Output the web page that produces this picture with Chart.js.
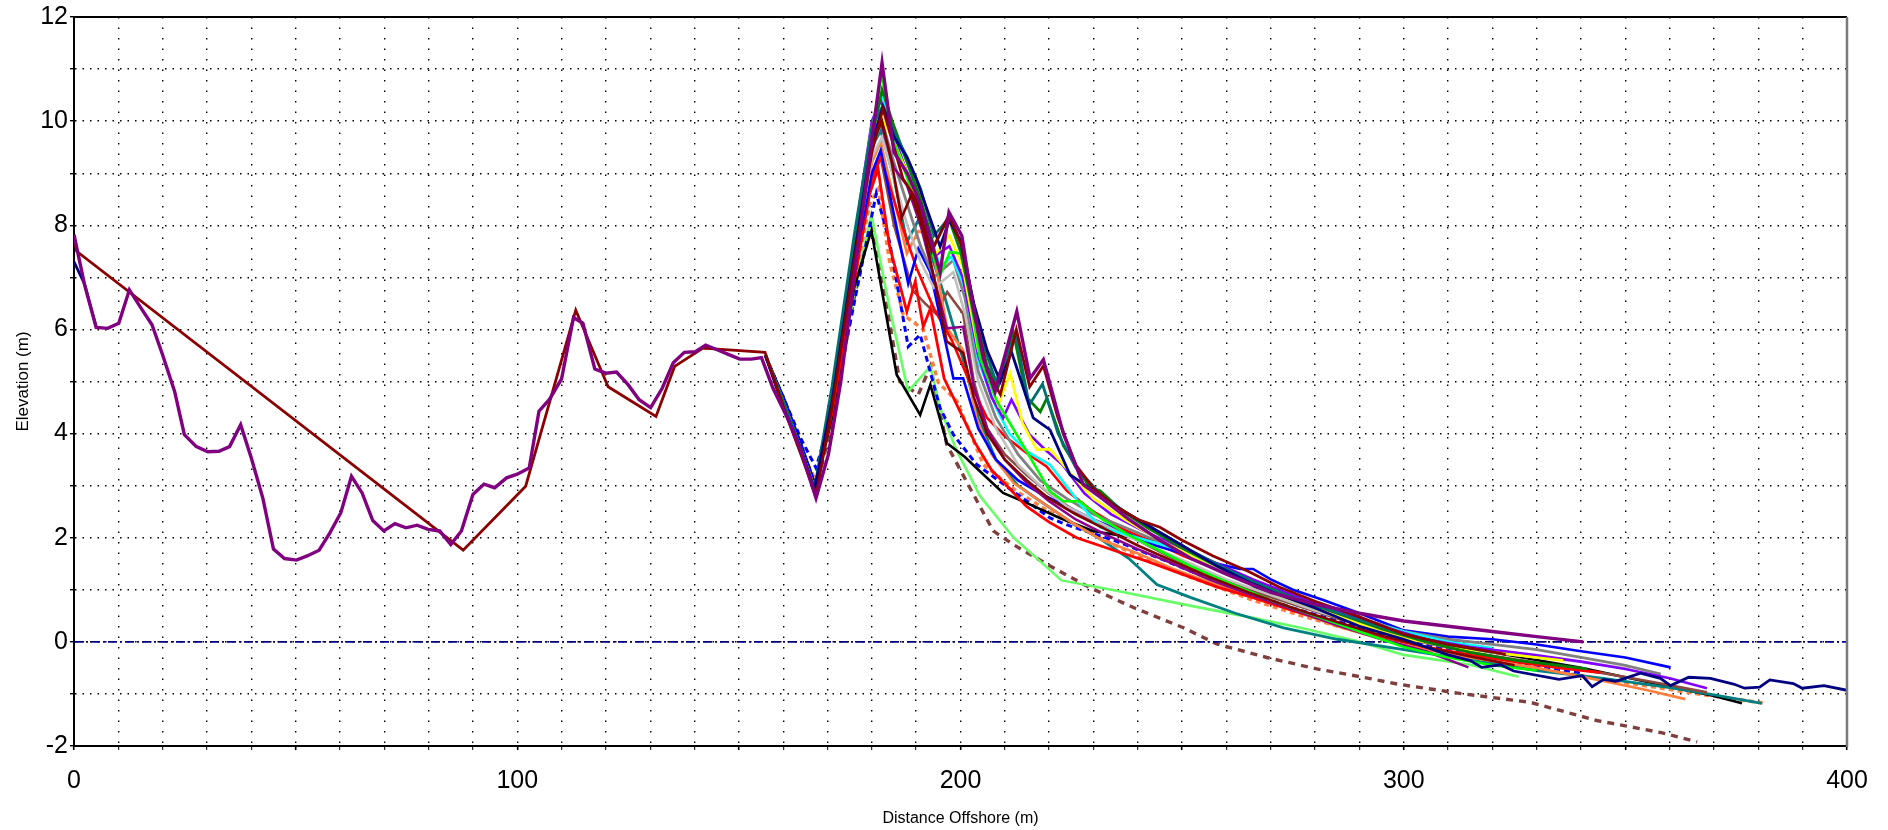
<!DOCTYPE html>
<html>
<head>
<meta charset="utf-8">
<title>Beach profiles</title>
<script src="https://cdn.jsdelivr.net/npm/chart.js@4.4.1/dist/chart.umd.min.js"></script>
<style>
  html, body { margin: 0; padding: 0; background: #fff; }
  #wrap { width: 1888px; height: 830px; }
</style>
</head>
<body>
<div id="wrap"><canvas id="profiles" width="1888" height="830"></canvas></div>
<script>
/* Profile surveys: [distance offshore (m), elevation (m)] */

const purpleProfile = [[0,7.82],[2.4,6.85],[5,6.04],[7.6,6.02],[10.1,6.12],[12.5,6.76],[15.2,6.4],[17.6,6.09],[20,5.51],[22.7,4.81],[24.9,3.98],[27.6,3.75],[30.2,3.65],[32.7,3.66],[35.1,3.75],[37.6,4.17],[40,3.53],[42.6,2.76],[45,1.78],[47.5,1.6],[50.2,1.57],[52.6,1.65],[55.3,1.76],[57.7,2.09],[60.2,2.48],[62.6,3.18],[65,2.86],[67.4,2.33],[69.9,2.13],[72.4,2.27],[74.9,2.19],[77.4,2.24],[79.9,2.16],[82.5,2.13],[85,1.87],[87.4,2.13],[90,2.83],[92.5,3.03],[94.9,2.96],[97.6,3.15],[100,3.22],[102.7,3.34],[104.9,4.43],[107.3,4.66],[110,5.05],[112.7,6.23],[114.8,6.12],[117.5,5.24],[120,5.16],[122.4,5.18],[125,4.94],[127.5,4.65],[130.1,4.5],[132.7,4.87],[135.2,5.36],[137.7,5.56],[140.1,5.57],[142.5,5.7],[145.1,5.61],[147.6,5.52],[150.2,5.43],[152.8,5.43],[155.1,5.46],[157.7,4.87],[160.8,4.33],[163.8,3.72],[167.4,2.76],[170.2,3.6],[173,5.0],[176,7.0],[179,9.0],[182.3,11.12],[185,9.4],[188,9.0],[191,8.4],[195.4,7.1],[197.4,8.25],[200.3,7.8],[202.5,6.6],[205.1,5.45],[207.8,4.8],[212.7,6.34],[215.7,5.06],[218.7,5.42],[223.2,4.0],[227.7,3.02],[232,2.75],[238,2.35],[245,1.95],[252,1.6],[260,1.3],[270,0.95],[280,0.72],[290,0.55],[300,0.4],[310,0.3],[320,0.2],[330,0.1],[340.5,0.0]];

const darkRedProfile = [[0,7.78],[0.6,7.5],[87.8,1.76],[101.9,2.99],[113.2,6.37],[120.5,4.9],[131.3,4.33],[135.5,5.29],[141.9,5.64],[155.9,5.56],[160.5,4.4],[164,3.6],[167.4,2.8],[171,4.5],[176,7.3],[180,9.4],[182.5,10.24],[185,9.5],[187,8.9],[190,8.5],[193.5,7.5],[197.4,8.2],[200.3,7.6],[203,6.4],[206,5.2],[209,4.75],[212.6,6.0],[215.6,4.9],[218.7,5.3],[222,4.3],[226,3.4],[230,2.95],[235,2.6],[240,2.35],[245,2.2],[250,1.95],[257,1.65],[265,1.35],[272,1.05],[280,0.78],[290,0.48],[300,0.15],[310,-0.05],[317,-0.15],[323,-0.24]];

const navyShore = [[0,7.3],[2.4,6.87],[5,6.05]];
const navyProfile = [[156,5.5],[160,4.5],[164,3.7],[167,2.9],[171,4.6],[176,7.4],[180,9.6],[182.5,10.27],[185,9.7],[187.9,9.31],[190,8.9],[192.4,8.32],[195.4,7.59],[197.5,8.1],[200,7.7],[203,6.5],[206,5.6],[209,5.0],[211.5,5.57],[216.4,4.3],[220.2,4.07],[224.7,3.21],[230,2.9],[236,2.55],[242,2.25],[250,1.85],[258,1.45],[265,1.15],[272,0.9],[280,0.65],[290,0.3],[300,0.05],[310,-0.25],[315,-0.36],[317.6,-0.49],[321.8,-0.44],[324.8,-0.56],[335,-0.72],[340.3,-0.65],[342.5,-0.86],[345.1,-0.72],[347.8,-0.76],[353.4,-0.6],[357.9,-0.7],[360.2,-0.84],[364.3,-0.68],[369.2,-0.7],[374.4,-0.81],[376.9,-0.89],[380.3,-0.87],[382.6,-0.73],[387.9,-0.8],[389.9,-0.89],[394.8,-0.84],[400,-0.93]];

const limeProfile = [[156,5.5],[160.5,4.5],[164,3.7],[167.2,2.9],[171,4.7],[176,7.6],[180,9.8],[182.2,10.9],[185,9.6],[188,8.9],[191,8.1],[193.5,7.5],[195.4,7.04],[197.6,7.49],[200.6,7.45],[204.4,5.45],[208.2,4.62],[214.9,3.66],[220.2,2.89],[223.2,2.7],[226.9,2.7],[232,2.35],[238,2.05],[245,1.75],[252,1.45],[260,1.15],[270,0.8],[280,0.5],[290,0.2],[300,-0.1],[310,-0.3],[320,-0.45],[330,-0.55]];

const greenProfile = [[156,5.5],[160.5,4.5],[164,3.7],[167.3,2.85],[171,4.6],[176,7.5],[180,9.7],[182.3,10.6],[185,9.9],[188,9.2],[191,8.5],[194,7.6],[197.3,8.15],[200,7.5],[203,6.3],[206,5.3],[208.5,4.9],[211.9,5.96],[214.9,4.7],[218,4.42],[219.5,4.68],[223.2,3.77],[229.2,2.96],[231.5,2.9],[236.7,2.5],[242,2.2],[250,1.8],[258,1.45],[266,1.15],[275,0.85],[285,0.55],[295,0.25],[305,0.0],[315,-0.2],[325,-0.35],[335,-0.45],[341.3,-0.52]];

const tealProfile = [[156,5.5],[160.5,4.5],[164,3.7],[167.3,2.9],[171,4.8],[176,7.6],[180,9.5],[182,9.82],[185,8.9],[187.9,7.68],[190.5,8.1],[192,7.8],[196.1,6.72],[200.6,5.42],[204,4.3],[208,3.5],[213,3.0],[218,2.7],[225,2.3],[232,1.95],[238,1.6],[244.3,1.1],[252,0.85],[262,0.55],[272.9,0.27],[285,0.05],[300,-0.15],[315,-0.35],[330,-0.55],[345,-0.7],[360,-0.88],[370,-1.02],[380.8,-1.18]];

const darkTealProfile = [[156,5.5],[160.5,4.5],[164,3.7],[167,2.9],[171,4.9],[176,7.8],[180,9.9],[182.5,10.3],[185,9.8],[188,9.3],[191,8.7],[194,7.8],[197.5,8.15],[200.5,7.6],[204,6.0],[208,5.0],[212.5,5.9],[215.5,4.55],[218.5,4.95],[222,4.0],[226,3.35],[232,2.8],[238,2.45],[245,2.1],[252,1.75],[260,1.4],[270,1.0],[280,0.7],[290,0.42],[300,0.15],[310,-0.05],[320,-0.2]];

const blueProfile = [[156,5.5],[160.5,4.6],[164,3.8],[167.3,3.0],[171,4.6],[176,7.2],[180,9.0],[182,9.44],[185,8.2],[188.2,6.88],[190.5,7.55],[193.2,7.1],[196,6.0],[198.4,5.06],[200.6,5.06],[204,4.1],[208,3.5],[213,3.1],[218,2.85],[224,2.6],[230,2.35],[237,2.1],[244,1.85],[252,1.65],[258,1.5],[263,1.4],[266,1.4],[270,1.2],[275,1.0],[282,0.8],[290,0.55],[300,0.22],[310,0.1],[320,0.05],[330,-0.05],[340,-0.18],[350,-0.3],[360.2,-0.49]];

const redProfile = [[156,5.5],[160.5,4.5],[164,3.7],[167.2,2.9],[171,4.4],[176,6.9],[179.5,8.6],[181.4,9.09],[184,7.6],[187.9,6.34],[189.8,6.92],[191.6,6.05],[193.2,6.4],[196.3,5.06],[200.6,4.3],[203.3,3.82],[207,3.3],[211,2.95],[214.9,2.6],[220,2.3],[226.2,2.0],[235.2,1.74],[242,1.55],[250,1.3],[258,1.05],[266,0.85],[275,0.6],[285,0.35],[295,0.1],[305,-0.1],[315,-0.25],[325,-0.38],[335,-0.5],[344.4,-0.59]];

const redUpperProfile = [[156,5.5],[160.5,4.5],[164,3.7],[167.3,2.9],[171,4.6],[176,7.2],[180,8.9],[182,9.3],[186,8.2],[190,7.2],[194,6.4],[198,5.8],[202,5.0],[206,4.3],[210,3.95],[214.9,3.63],[219.4,3.37],[224,2.9],[230,2.5],[237,2.15],[244,1.9],[250.3,1.65],[258,1.4],[266,1.12],[275,0.85],[285,0.55],[295,0.28],[305,0.05],[315,-0.12],[325,-0.25]];

const blackProfile = [[156,5.5],[160.5,4.6],[164,3.8],[167.3,3.0],[171,4.3],[176,6.8],[179.9,7.9],[185.6,5.13],[190.9,4.36],[193.2,4.94],[196.9,3.82],[201,3.55],[203.6,3.34],[209.6,2.86],[214.9,2.67],[222.4,2.38],[229.9,2.13],[239,2.0],[246.5,1.93],[253,1.7],[260,1.4],[269.1,0.91],[280.4,0.59],[290,0.35],[300,0.12],[310,-0.05],[320,-0.2],[330,-0.35],[340,-0.5],[350,-0.68],[360,-0.86],[370,-1.04],[376.3,-1.18]];

const grayProfile = [[156,5.5],[160.5,4.5],[164,3.7],[167.3,2.9],[171,4.7],[176,7.5],[180,9.5],[182.3,10.0],[185,9.2],[188,8.4],[191,7.6],[194,7.0],[198.4,7.33],[201,6.6],[204,5.2],[208,4.3],[213,3.6],[218,3.1],[224,2.75],[230,2.45],[237,2.2],[244,1.95],[252,1.65],[260,1.35],[270,1.0],[280,0.7],[290,0.45],[300,0.2],[310,0.05],[320,-0.05],[330,-0.15],[340,-0.3],[350,-0.45],[358,-0.62]];

const silverProfile = [[156,5.5],[160.5,4.5],[164,3.7],[167.3,2.9],[171,4.6],[176,7.3],[180,9.3],[182.3,9.7],[185,8.9],[188,8.0],[191,7.3],[194,6.8],[198.4,7.1],[201,6.3],[204,5.0],[208,4.1],[213,3.4],[218,3.0],[224,2.6],[230,2.35],[237,2.05],[244,1.8],[252,1.5],[260,1.2],[270,0.9],[280,0.6],[290,0.35],[300,0.1],[315,-0.15],[330,-0.3],[340,-0.38],[351,-0.52]];

const brownProfile = [[156,5.5],[160.5,4.5],[164,3.7],[167.3,2.9],[171,4.5],[176,7.0],[180,8.9],[182,9.3],[185,8.0],[189.2,6.75],[192,6.5],[194.5,6.3],[197,6.72],[200.6,6.3],[203,5.0],[206,4.1],[210,3.6],[215,3.2],[220,2.85],[226,2.5],[233,2.2],[240,1.95],[248,1.6],[256,1.3],[265,1.0],[275,0.72],[285,0.45],[295,0.2],[305,-0.02],[315,-0.2],[330,-0.4],[345,-0.6],[358,-0.8],[368.4,-0.97]];

const orangeProfile = [[156,5.5],[160.5,4.5],[164,3.7],[167.3,2.9],[171,4.6],[176,7.3],[180,9.2],[182,9.6],[185,8.5],[187.9,7.46],[190.5,7.89],[193.2,7.8],[197,6.02],[200.6,5.6],[203.6,4.3],[207,3.6],[212,3.05],[218,2.7],[225,2.3],[232,1.95],[240,1.7],[248,1.4],[256,1.15],[265,0.9],[275,0.6],[285,0.3],[295,0.05],[305,-0.15],[315,-0.3],[330,-0.5],[345,-0.75],[355,-0.93],[363.5,-1.1]];

const orangeDashProfile = [[156,5.5],[160.5,4.5],[164,3.7],[167.3,3.1],[171,4.3],[176,6.9],[179.5,8.4],[181.5,8.7],[184,7.3],[187.1,6.28],[191.6,6.0],[195,4.98],[199.2,4.62],[205.2,3.4],[212.7,2.89],[220,2.5],[228,2.15],[235,1.85],[242.8,1.55],[250,1.3],[258,1.05],[266,0.8],[275,0.55],[285,0.3],[295,0.08],[305,-0.12],[315,-0.3],[325,-0.45],[340,-0.65],[355,-0.85],[368,-1.02],[381.6,-1.18]];

const blueDashProfile = [[156,5.5],[160.5,4.6],[164,3.9],[167.4,3.34],[171,4.4],[176,6.5],[181,8.61],[184,7.68],[188.2,5.67],[190.9,5.9],[195.4,4.49],[198.4,3.98],[203.6,3.41],[212.7,2.84],[220.2,2.38],[223.9,2.25],[235.2,1.93],[245,1.6],[255,1.25],[265,0.95],[275,0.65],[285,0.4],[295,0.15],[305,-0.05],[315,-0.22],[328,-0.42],[340,-0.6]];

const brownDashProfile = [[156,5.5],[160.5,4.5],[164,3.7],[167.3,2.9],[171,4.2],[176,6.6],[179.9,8.13],[186.3,5.0],[190.5,4.75],[193.2,5.29],[196.9,3.79],[202.1,2.96],[207.4,2.13],[211.9,1.87],[219.5,1.49],[229.2,1.04],[239,0.66],[250.3,0.27],[257.8,-0.04],[269.1,-0.3],[280.4,-0.52],[290.9,-0.68],[298.5,-0.81],[313.5,-1.0],[328.5,-1.16],[343.5,-1.51],[357.9,-1.74],[366.2,-1.92]];

const lightGreenProfile = [[156,5.5],[160.5,4.5],[164,3.7],[167.3,3.0],[171,4.3],[176,6.7],[179.9,8.2],[184,6.4],[188.2,4.81],[193.2,5.29],[195.4,4.49],[199,3.7],[204.4,2.8],[212,2.0],[222.8,1.18],[235.2,0.98],[250.3,0.72],[265.4,0.47],[276.7,0.27],[290,0.0],[300,-0.25],[315,-0.44],[325.9,-0.67]];

const yellowProfile = [[156,5.5],[160.5,4.5],[164,3.7],[167.3,2.9],[171,4.8],[176,7.7],[180,9.9],[182,10.1],[185,9.6],[188,9.0],[191,8.2],[194,7.4],[197.5,7.8],[200.5,7.2],[204,5.6],[208.5,4.55],[211.2,5.16],[214,4.2],[217.2,3.69],[220.2,3.7],[224.7,3.25],[230,2.75],[237,2.35],[244,2.0],[252,1.65],[260,1.3],[270,0.95],[280,0.65],[290,0.35],[300,0.08],[310,-0.1],[320,-0.2],[328,-0.28],[336,-0.36]];

const violetProfile = [[156,5.5],[160.5,4.5],[164,3.7],[167.3,2.9],[171,4.8],[176,7.7],[180,10.0],[182,10.4],[185,9.7],[188,9.0],[191,8.3],[194,7.4],[197.5,7.6],[200.5,7.0],[204,5.5],[207,4.7],[209.6,4.3],[211.5,4.65],[215.5,3.99],[219,3.7],[223,3.4],[228,2.85],[234,2.45],[242,2.1],[250,1.8],[258,1.5],[266,1.2],[275,0.9],[285,0.6],[295,0.3],[305,0.05],[315,-0.1],[329.3,-0.25],[340,-0.38],[350,-0.52],[360,-0.7],[368.4,-0.89]];

const cyanProfile = [[156,5.5],[160.5,4.5],[164,3.7],[167.3,2.9],[171,4.8],[176,7.6],[180,9.8],[182.3,10.5],[185,9.8],[188,9.2],[191,8.4],[195.4,7.2],[198,7.4],[201,6.8],[204,5.4],[208,4.5],[211,4.0],[214.9,3.66],[220.2,3.4],[227.7,2.57],[231.5,2.2],[242.8,1.93],[250.3,1.74],[258,1.45],[266,1.15],[275,0.88],[285,0.6],[291.7,0.4],[300,0.2],[310,0.0],[320,-0.12]];

const purpleLowProfile = [[156,5.5],[160.5,4.5],[164,3.7],[167.3,2.9],[171,4.7],[176,7.4],[180,9.5],[182,9.98],[185,9.1],[187.9,8.77],[191,8.0],[194,7.0],[196.9,6.02],[200.6,6.05],[203,4.9],[206,4.1],[210,3.5],[215,3.05],[220,2.7],[226,2.35],[233,2.05],[240,1.78],[248,1.5],[256,1.2],[265,0.92],[275,0.62],[285,0.32],[295,0.05],[305,-0.18],[314.6,-0.49]];

const maroonProfile = [[156,5.5],[160.5,4.5],[164,3.7],[167.3,2.9],[171,4.6],[176,7.4],[180,9.6],[182.3,10.0],[184.5,9.2],[186.7,8.14],[189,8.6],[192,7.8],[194.5,6.8],[196.9,5.77],[200.6,5.55],[203,4.7],[206,4.0],[210,3.5],[215,3.1],[220,2.75],[226,2.45],[233,2.15],[240,1.85],[248,1.55],[256,1.25],[265,0.95],[275,0.65],[285,0.38],[295,0.12],[305,-0.1],[315,-0.28],[325,-0.45]];

const datumLine = [[0,0],[400,0]];

const xTickStep = 10;
const xLabelStep = 100;
const yTickStep = 1;
const yLabelStep = 2;

// first dataset is painted last (on top)
const line = (data, color, width, dash) => ({
    data: data.map(p => ({ x: p[0], y: p[1] })),
    borderColor: color,
    backgroundColor: color,
    borderWidth: width || 2.6,
    borderDash: dash || [],
    showLine: true,
    pointRadius: 0,
    pointHoverRadius: 0,
    fill: false,
    tension: 0
});

const datasets = [
    line(purpleProfile, '#800080', 3.4),
    line(darkRedProfile, '#8B0000', 2.8),
    line(navyShore, '#000080', 2.8),
    line(navyProfile, '#000080', 2.8),
    line(darkTealProfile, '#006F6F', 2.8),
    line(greenProfile, '#007F00', 2.8),
    line(maroonProfile, '#800000'),
    line(limeProfile, '#00FF00'),
    line(yellowProfile, '#FFFF00'),
    line(violetProfile, '#8000FF'),
    line(cyanProfile, '#00FFFF'),
    line(purpleLowProfile, '#8B008B'),
    line(grayProfile, '#808080', 2.8),
    line(silverProfile, '#C0C0C0'),
    line(blueProfile, '#0000FF'),
    line(redUpperProfile, '#FF0000'),
    line(redProfile, '#FF0000', 2.8),
    line(orangeProfile, '#FF7F3F'),
    line(brownProfile, '#8B4A40'),
    line(tealProfile, '#008080', 2.8),
    line(blackProfile, '#000000'),
    line(datumLine, '#000080', 1.8, [9, 3, 2, 3]),
    line(blueDashProfile, '#0000FF', 3, [6, 4]),
    line(orangeDashProfile, '#FF7F3F', 3.4, [5, 4]),
    line(lightGreenProfile, '#66FF66', 2.6),
    line(brownDashProfile, '#7F3F3F', 3.4, [7, 6])
];

const font = "'Liberation Sans', Arial, sans-serif";

// top and right frame of the plot box
const frame = {
    id: 'frame',
    afterDraw(chart) {
        const { ctx, chartArea: a } = chart;
        ctx.save();
        ctx.lineWidth = 2;
        ctx.strokeStyle = '#000';
        ctx.beginPath();
        ctx.moveTo(a.left, a.top);
        ctx.lineTo(a.right, a.top);
        ctx.stroke();
        ctx.strokeStyle = '#7a7a7a';
        ctx.lineWidth = 2.5;
        ctx.beginPath();
        ctx.moveTo(a.right, a.top);
        ctx.lineTo(a.right, a.bottom + 1);
        ctx.stroke();
        ctx.restore();
    }
};

new Chart(document.getElementById('profiles'), {
    type: 'scatter',
    data: { datasets },
    plugins: [frame],
    options: {
        responsive: false,
        devicePixelRatio: 1,
        animation: false,
        events: [],
        layout: { padding: { top: 15, right: 41, left: 0, bottom: 0 } },
        plugins: { legend: { display: false }, tooltip: { enabled: false } },
        scales: {
            x: {
                type: 'linear',
                min: 0,
                max: 400,
                afterFit(scale) { scale.height = 84; },
                ticks: {
                    stepSize: xTickStep,
                    autoSkip: false,
                    maxRotation: 0,
                    padding: 16,
                    color: '#000',
                    font: { family: font, size: 25 },
                    callback: v => (v % xLabelStep === 0 ? v : '')
                },
                grid: {
                    color: '#000',
                    lineWidth: 1.4,
                    tickLength: 4,
                    tickColor: '#000',
                    tickWidth: c => (c.tick && c.tick.value % 50 === 0 ? 1.6 : 1),
                    tickBorderDash: []
                },
                border: { display: true, color: '#000', width: 2, dash: [1.5, 9] },
                title: {
                    display: true,
                    text: 'Distance Offshore (m)',
                    color: '#000',
                    font: { family: font, size: 16 },
                    padding: { top: 0, bottom: 2 }
                }
            },
            y: {
                type: 'linear',
                min: -2,
                max: 12,
                afterFit(scale) { scale.width = 74; },
                ticks: {
                    stepSize: yTickStep,
                    autoSkip: false,
                    padding: 2,
                    color: '#000',
                    font: { family: font, size: 25 },
                    callback: v => (v % yLabelStep === 0 ? v : '')
                },
                grid: {
                    color: '#000',
                    lineWidth: 1.4,
                    tickLength: 4,
                    tickColor: '#000',
                    tickBorderDash: []
                },
                border: { display: true, color: '#000', width: 2, dash: [1.5, 6] },
                title: {
                    display: true,
                    text: 'Elevation (m)',
                    color: '#000',
                    font: { family: font, size: 17 },
                    padding: { top: 13, bottom: 0 }
                }
            }
        }
    }
});
</script>
</body>
</html>
